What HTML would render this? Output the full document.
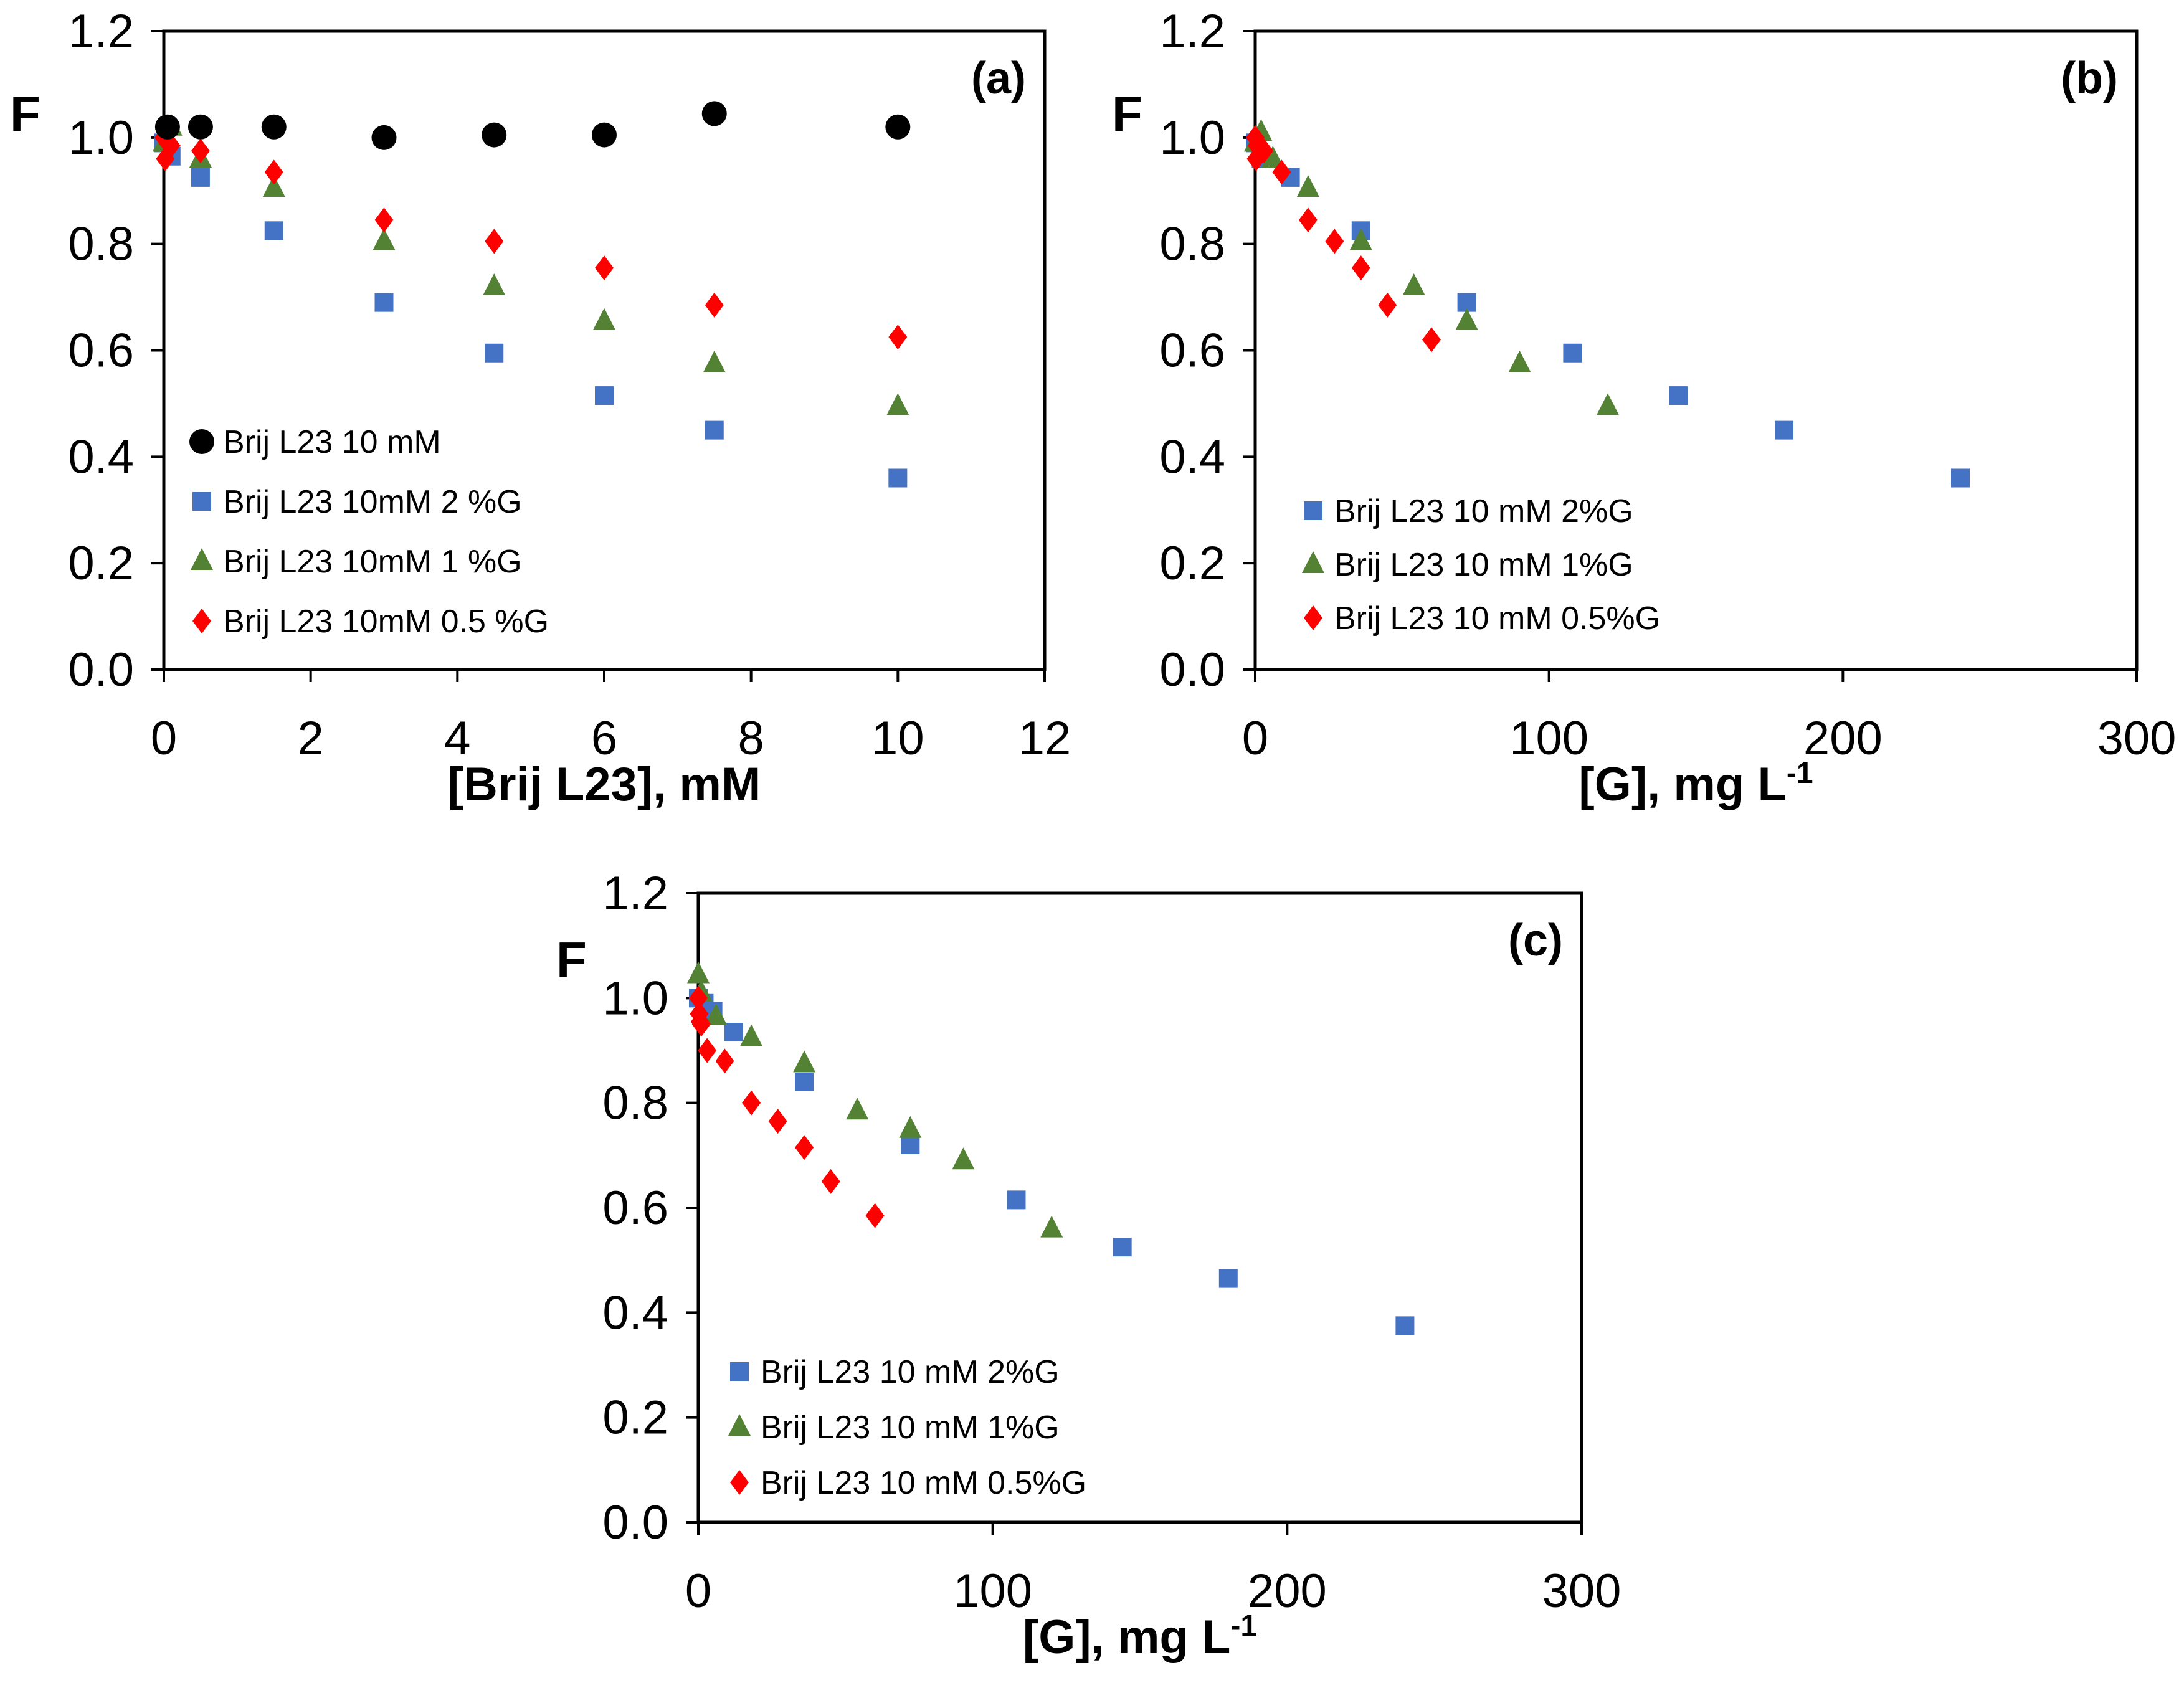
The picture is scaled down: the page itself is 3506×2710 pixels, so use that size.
<!DOCTYPE html>
<html><head><meta charset="utf-8"><style>
html,body{margin:0;padding:0;background:#fff}
svg{display:block}
text{font-family:"Liberation Sans Narrow","Liberation Sans",sans-serif}
</style></head><body>
<svg id="fig" width="3506" height="2710" viewBox="0 0 3506 2710" xmlns="http://www.w3.org/2000/svg"></svg>
<script>
// Panel (a) data: x in mM
const aBlackX=[0.05,0.5,1.5,3,4.5,6,7.5,10];
const aBlackY=[1.02,1.02,1.02,1.0,1.005,1.005,1.045,1.02];
const aBlueX=[0,0.1,0.5,1.5,3,4.5,6,7.5,10];
const aBlueY=[0.99,0.965,0.925,0.825,0.69,0.595,0.515,0.45,0.36];
const aGreenX=[0,0.1,0.5,1.5,3,4.5,6,7.5,10];
const aGreenY=[0.99,1.02,0.96,0.905,0.805,0.72,0.655,0.575,0.495];
const aRedX=[0,0.02,0.1,0.5,1.5,3,4.5,6,7.5,10];
const aRedY=[1.0,0.96,0.985,0.975,0.935,0.845,0.805,0.755,0.685,0.625];
// Panel (b) data: x in mg/L
const bBlueX=[0,2,12,36,72,108,144,180,240];
const bBlueY=[0.99,0.96,0.925,0.825,0.69,0.595,0.515,0.45,0.36];
const bGreenX=[0,2,6,18,36,54,72,90,120];
const bGreenY=[0.99,1.01,0.96,0.905,0.805,0.72,0.655,0.575,0.495];
const bRedX=[0,0.3,0.6,3,9,18,27,36,45,60];
const bRedY=[1.0,0.96,0.985,0.975,0.935,0.845,0.805,0.755,0.685,0.62];
// Panel (c) data
const cBlueX=[0,2,5,12,36,72,108,144,180,240];
const cBlueY=[1.0,0.99,0.975,0.935,0.84,0.72,0.615,0.525,0.465,0.375];
const cGreenX=[0,1,6,18,36,54,72,90,120];
const cGreenY=[1.045,1.01,0.965,0.925,0.875,0.785,0.75,0.69,0.56];
const cRedX=[0,0.3,0.6,1,3,9,18,27,36,45,60];
const cRedY=[1.0,0.97,0.955,0.95,0.9,0.88,0.8,0.765,0.715,0.65,0.585];
const yTicks=["0.0","0.2","0.4","0.6","0.8","1.0","1.2"];
const aXTicks=[0,2,4,6,8,10,12];
const gXTicks=[0,100,200,300];

const NS="http://www.w3.org/2000/svg";
const svg=document.getElementById('fig');
function mk(tag,attrs,parent){const e=document.createElementNS(NS,tag);for(const k in attrs)e.setAttribute(k,attrs[k]);(parent||svg).appendChild(e);return e;}
const COL={blue:"#4472C4",green:"#548235",red:"#FF0000",black:"#000"};
function marker(g,type,x,y){
  let e;
  if(type==='black'){e=mk('circle',{cx:x,cy:y,r:20,fill:COL.black},g);}
  else if(type==='blue'){e=mk('rect',{x:x-15,y:y-15,width:30,height:30,fill:COL.blue},g);}
  else if(type==='green'){e=mk('polygon',{points:`${x},${y-21} ${x+18},${y+14} ${x-18},${y+14}`,fill:COL.green},g);}
  else {e=mk('polygon',{points:`${x},${y-20} ${x+15},${y} ${x},${y+20} ${x-15},${y}`,fill:COL.red},g);}
  return e;
}
function panel(p){
  const g=mk('g',{});
  
  
  const sx=v=>p.x0+(v-p.xmin)/(p.xmax-p.xmin)*(p.x1-p.x0);
  const sy=v=>p.y0+(v/1.2)*(p.y1-p.y0);
  // frame
  const fr=mk('rect',{x:p.x0,y:p.y1,width:p.x1-p.x0,height:p.y0-p.y1,fill:'none',stroke:'#000','stroke-width':5},g);
  
  
  // y ticks
  yTicks.forEach(t=>{const y=sy(parseFloat(t));
    mk('line',{x1:p.x0-20,y1:y,x2:p.x0,y2:y,stroke:'#000','stroke-width':4},g);
    const tx=mk('text',{x:p.x0-48,y:y+26,'text-anchor':'end','font-size':76},g);tx.textContent=t;
    
    
  });
  p.xt.forEach(t=>{const x=sx(t);
    mk('line',{x1:x,y1:p.y0,x2:x,y2:p.y0+20,stroke:'#000','stroke-width':4},g);
    const tx=mk('text',{x:x,y:p.y0+136,'text-anchor':'middle','font-size':76},g);tx.textContent=t;
    
    
  });
  // series
  p.series.forEach(s=>{
    const sg=mk('g',{},g);
    
    
    s.x.forEach((v,i)=>{const m=marker(sg,s.type,sx(v),sy(s.y[i]));
      
      });
  });
  // legend
  p.legend.forEach((l,i)=>{const y=p.ly+i*p.lstep;
    const lm=marker(g,l.type,p.lx,y);
    
    
    const t=mk('text',{x:p.lx+34,y:y+18,'font-size':52},g);t.textContent=l.text;
    
    
  });
  const F=mk('text',{x:p.fx,y:p.fy,'font-size':80,'font-weight':'bold','font-family':'Liberation Sans, sans-serif'},g);F.textContent='F';
  
  
  const pl=mk('text',{x:p.x1-30,y:p.y1+100,'text-anchor':'end','font-size':72,'font-weight':'bold'},g);pl.textContent='('+p.id+')';
  
  
  const xt=mk('text',{x:(p.x0+p.x1)/2,y:p.y0+210,'text-anchor':'middle','font-size':76,'font-weight':'bold','font-family':'Liberation Sans, sans-serif'},g);
  if(p.id==='a'){xt.textContent='[Brij L23], mM';}
  else{xt.textContent='[G], mg L';const ts=mk('tspan',{dy:-28,'font-size':48},xt);ts.textContent='-1';}
  
  
}
panel({id:'a',x0:263,x1:1677,y0:1075,y1:50,xmin:0,xmax:12,xt:aXTicks,fx:16,fy:210,
  series:[{type:'blue',x:aBlueX,y:aBlueY},{type:'green',x:aGreenX,y:aGreenY},{type:'red',x:aRedX,y:aRedY},{type:'black',x:aBlackX,y:aBlackY}],
  lx:324,ly:709,lstep:96,legend:[{type:'black',text:'Brij L23  10 mM'},{type:'blue',text:'Brij L23  10mM 2 %G'},{type:'green',text:'Brij L23  10mM 1 %G'},{type:'red',text:'Brij L23  10mM 0.5 %G'}]});
panel({id:'b',x0:2015,x1:3430,y0:1075,y1:50,xmin:0,xmax:300,xt:gXTicks,fx:1785,fy:210,
  series:[{type:'blue',x:bBlueX,y:bBlueY},{type:'green',x:bGreenX,y:bGreenY},{type:'red',x:bRedX,y:bRedY}],
  lx:2108,ly:820,lstep:86,legend:[{type:'blue',text:'Brij L23  10 mM  2%G'},{type:'green',text:'Brij L23  10 mM  1%G'},{type:'red',text:'Brij L23  10 mM  0.5%G'}]});
panel({id:'c',x0:1121,x1:2539,y0:2444,y1:1434,xmin:0,xmax:300,xt:gXTicks,fx:893,fy:1568,
  series:[{type:'blue',x:cBlueX,y:cBlueY},{type:'green',x:cGreenX,y:cGreenY},{type:'red',x:cRedX,y:cRedY}],
  lx:1187,ly:2202,lstep:89,legend:[{type:'blue',text:'Brij L23  10 mM 2%G'},{type:'green',text:'Brij L23  10 mM 1%G'},{type:'red',text:'Brij L23  10 mM 0.5%G'}]});
</script>
</body></html>
